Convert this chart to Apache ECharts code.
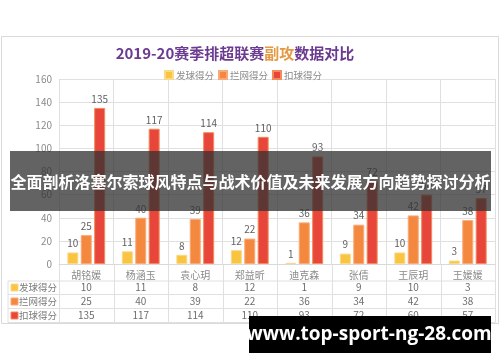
<!DOCTYPE html>
<html><head><meta charset="utf-8">
<script src="https://cdn.jsdelivr.net/npm/echarts@6/dist/echarts.min.js"></script>
<style>html,body{margin:0;padding:0;background:#fff}#c{width:500px;height:362px}</style>
</head><body><div id="c"></div>
<script>
var categories = ['胡铭媛','杨涵玉','袁心玥','郑益昕','迪克森','张倩','王辰玥','王媛媛'];
var seriesNames = ['发球得分','拦网得分','扣球得分'];
var serveScores = [10, 11, 8, 12, 1, 9, 10, 3];
var blockScores = [25, 40, 39, 22, 36, 34, 42, 38];
var spikeScores = [135, 117, 114, 110, 93, 72, 60, 57];
var yTicks = [0, 20, 40, 60, 80, 100, 120, 140, 160];

var colors = ['#f9c440', '#f5883f', '#e8463a'];
var borders = ['#fbd98a', '#f8ab78', '#f28a5a'];
var values = [serveScores, blockScores, spikeScores];
var FONT = '"Noto Sans CJK SC", "Noto Sans", sans-serif';

var gridLeft = 59, gridRight = 5, gridTop = 79, gridBottom = 98;
var chartW = 500 - gridLeft - gridRight;
var colW = chartW / categories.length;

var chart = echarts.init(document.getElementById('c'), null, {renderer: 'canvas'});

var xAxes = [{
  type: 'category', data: categories, gridIndex: 0, position: 'bottom',
  axisLine: {lineStyle: {color: '#d9d9d9'}}, axisTick: {show: false},
  axisLabel: {color: '#8a8a8a', fontSize: 10, fontFamily: FONT, margin: 6, interval: 0},
  splitLine: {show: true, lineStyle: {color: '#e0e0e0'}}
}];
values.forEach(function (arr, i) {
  xAxes.push({
    type: 'category', data: arr.map(String), gridIndex: 0, position: 'bottom',
    offset: 13.5 + i * 14,
    axisLine: {show: false}, axisTick: {show: false},
    axisLabel: {color: '#6e6e6e', fontSize: 10, fontFamily: FONT, margin: 5, interval: 0}
  });
});

var series = seriesNames.map(function (n, i) {
  return {
    name: n, type: 'bar', data: values[i], xAxisIndex: 0,
    barWidth: 11, barGap: '22%',
    itemStyle: {color: colors[i], borderColor: borders[i], borderWidth: 1},
    label: {show: true, position: 'top', color: '#5f5f5f', fontSize: 10, fontFamily: FONT, distance: 4}
  };
});

var graphics = [];
graphics.push({type: 'rect', left: 1, top: 36, z: -10, shape: {width: 497, height: 287}, style: {fill: '#fff', stroke: '#d9d9d9', lineWidth: 1}});
var tableTop = 264, rowLines = [281, 294.5, 308.5, 322.5];
rowLines.forEach(function (y) {
  graphics.push({type: 'line', shape: {x1: 8, y1: y, x2: 495, y2: y}, style: {stroke: '#e0e0e0', lineWidth: 1}});
});
graphics.push({type: 'line', shape: {x1: 8, y1: 281, x2: 8, y2: 322.5}, style: {stroke: '#e0e0e0', lineWidth: 1}});
for (var k = 0; k <= categories.length; k++) {
  var x = Math.round(gridLeft + k * colW) + 0.5;
  graphics.push({type: 'line', shape: {x1: x, y1: tableTop, x2: x, y2: 322.5}, style: {stroke: '#e0e0e0', lineWidth: 1}});
}
seriesNames.forEach(function (n, i) {
  var cy = 287.5 + i * 14;
  graphics.push({type: 'rect', shape: {x: 11, y: cy - 3.5, width: 7, height: 7}, style: {fill: colors[i], stroke: borders[i], lineWidth: 1}});
  graphics.push({type: 'text', x: 19, y: cy, style: {text: n, fill: '#7a7a7a', font: '9.5px ' + FONT, textVerticalAlign: 'middle', textAlign: 'left'}});
});
graphics.push({type: 'rect', z: 100, shape: {x: 10, y: 151, width: 481, height: 60}, style: {fill: 'rgba(50,50,50,0.76)'}});
graphics.push({type: 'text', z: 101, x: 250.5, y: 182, style: {text: '全面剖析洛塞尔索球风特点与战术价值及未来发展方向趋势探讨分析', fill: '#ffffff', font: 'bold 16px ' + FONT, textAlign: 'center', textVerticalAlign: 'middle'}});
graphics.push({type: 'rect', z: 100, shape: {x: 249, y: 316, width: 242, height: 37}, style: {fill: '#000'}});
graphics.push({type: 'text', z: 101, x: 369, y: 335, style: {text: 'www.top-sport-ng-28.com', fill: '#ffffff', font: 'bold 19px "Open Sans", "Noto Sans", sans-serif', textAlign: 'center', textVerticalAlign: 'middle'}});

chart.setOption({
  animation: false,
  backgroundColor: '#ffffff',
  color: colors,
  title: {
    text: '{a|2019-20赛季排超联赛}{b|副攻}{a|数据对比}',
    left: 230, top: 41, textAlign: 'center',
    textStyle: {rich: {
      a: {color: '#6b3a91', fontSize: 15, fontWeight: 'bold', fontFamily: FONT},
      b: {color: '#e39a45', fontSize: 15, fontWeight: 'bold', fontFamily: FONT}
    }}
  },
  legend: {
    data: seriesNames, left: 159, top: 65, itemWidth: 8, itemHeight: 8, itemGap: 4,
    icon: 'rect',
    textStyle: {color: '#8a8a8a', fontSize: 9.5, fontFamily: FONT, padding: [0, 0, 0, -2]}
  },
  grid: {left: gridLeft, right: gridRight, top: gridTop, bottom: gridBottom},
  xAxis: xAxes,
  yAxis: {
    type: 'value', min: yTicks[0], max: yTicks[yTicks.length - 1], interval: yTicks[1] - yTicks[0],
    axisLine: {show: false}, axisTick: {show: false},
    axisLabel: {color: '#8a8a8a', fontSize: 10, fontFamily: FONT, margin: 7},
    splitLine: {lineStyle: {color: '#e0e0e0'}}
  },
  series: series,
  graphic: graphics
});
</script>
</body></html>
